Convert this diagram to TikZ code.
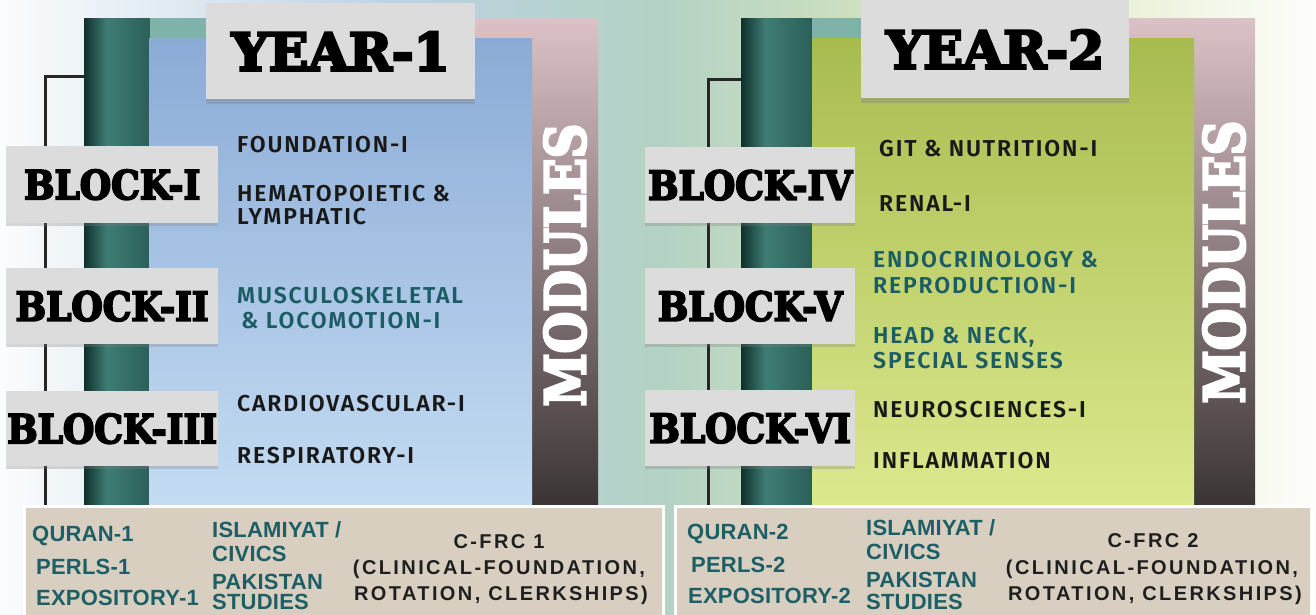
\documentclass[tikz,border=0pt]{standalone}
\usepackage{fontspec}
\usetikzlibrary{shadows}

\newfontfamily\slab{DejaVu Serif}[FakeBold=4.5, FakeStretch=0.9]
\newfontfamily\slabwide{DejaVu Serif}[FakeBold=5]
\newfontfamily\modfont{Fira Sans SemiBold}[LetterSpace=8]
\newfontfamily\arial{Liberation Sans}[LetterSpace=1]
\newfontfamily\widearial{Liberation Sans}[LetterSpace=12]

\definecolor{tealA}{HTML}{10302C}
\definecolor{tealB}{HTML}{3E7D74}
\definecolor{tealC}{HTML}{2A5F58}
\definecolor{tealtop}{HTML}{7FB3AA}
\definecolor{pinkA}{HTML}{DCC2C6}
\definecolor{pinkB}{HTML}{9B8C8E}
\definecolor{pinkC}{HTML}{3A3435}
\definecolor{blueA}{HTML}{8BABD6}
\definecolor{blueB}{HTML}{C4DCF3}
\definecolor{greenA}{HTML}{A8BB4F}
\definecolor{greenB}{HTML}{DCE98E}
\definecolor{boxgray}{HTML}{DCDCDC}
\definecolor{beige}{HTML}{D8CFC0}
\definecolor{modteal}{HTML}{1C5C64}
\definecolor{lowteal}{HTML}{1D5F66}
\definecolor{bgblue}{HTML}{BCD2E3}
\definecolor{bgteal}{HTML}{B3D2C4}
\definecolor{bggreen}{HTML}{DDE8BE}

\pgfdeclarehorizontalshading{bgshade}{100bp}{color(0bp)=(white!94!bgblue); color(25bp)=(white!94!bgblue); color(40bp)=(bgblue); color(50bp)=(bgteal); color(62bp)=(bggreen); color(75bp)=(white!94!bggreen); color(100bp)=(white!94!bggreen)}
\pgfdeclarehorizontalshading{barshade}{100bp}{color(0bp)=(tealA); color(25bp)=(tealA); color(42bp)=(tealB); color(75bp)=(tealC); color(100bp)=(tealC)}

\tikzset{
  tealbar/.style={anchor=north west, inner sep=0, shading=barshade, minimum height=487pt},
  modbar/.style={anchor=north west, inner sep=0, top color=pinkA, middle color=pinkB, bottom color=pinkC, minimum height=487pt},
  panel/.style={anchor=north west, inner sep=0, minimum height=467pt},
  yearbox/.style={anchor=north west, inner sep=0, fill=boxgray, drop shadow={opacity=0.35, shadow xshift=0pt, shadow yshift=-5pt},
    font=\slabwide\bfseries\fontsize{52}{52}\selectfont},
  blockbox/.style={anchor=north west, inner sep=0, fill=boxgray, drop shadow={opacity=0.3, shadow xshift=0pt, shadow yshift=-3pt},
    font=\slab\bfseries\fontsize{40}{40}\selectfont},
  modlabel/.style={rotate=90, inner sep=0, text=white, font=\slab\bfseries\fontsize{56}{56}\selectfont},
  modtext/.style={anchor=base west, inner sep=0, text=black!90, font=\modfont\fontsize{23}{23}\selectfont},
  tealtext/.style={modtext, text=modteal},
  lowbox/.style={anchor=north west, inner sep=0, fill=beige, draw=white, line width=3pt, minimum height=113pt},
  lowtext/.style={anchor=base west, inner sep=0, text=lowteal, font=\arial\bfseries\fontsize{22}{22}\selectfont},
  frctext/.style={anchor=base, inner sep=0, text=black!88, font=\widearial\bfseries\fontsize{20}{20}\selectfont},
  bracket/.style={draw=black!85, line width=3pt}
}

\begin{document}
\begin{tikzpicture}[x=1pt,y=-1pt]

\useasboundingbox (0,0) rectangle (1316,615);
\fill[shading=bgshade] (0,0) rectangle (1316,615);

% year 1
\node[tealbar, minimum width=66pt] (bar1) at (84,18) {};
\fill[tealtop] (150,18) rectangle (260,38);
\node[modbar, minimum width=128pt] (side1) at (470,18) {};
\node[panel, minimum width=383pt, top color=blueA, bottom color=blueB] (panel1) at (149,38) {};
\node[modlabel] (mod1) at (565,265) {\scalebox{0.95}[1]{MODULES}};
\node[yearbox, minimum width=269pt, minimum height=96pt] (year1) at (206,3) {YEAR-1};

% year 2
\node[tealbar, minimum width=71pt] (bar2) at (741,18) {};
\fill[tealtop] (812,18) rectangle (900,38);
\node[modbar, minimum width=126pt] (side2) at (1129,18) {};
\node[panel, minimum width=382pt, top color=greenA, bottom color=greenB] (panel2) at (812,38) {};
\node[modlabel] (mod2) at (1224,262) {\scalebox{0.95}[1]{MODULES}};
\node[yearbox, minimum width=268pt, minimum height=98pt] (year2) at (861,0) {YEAR-2};

\node[lowbox, minimum width=639pt] (low1) at (23,505) {};
\node[lowbox, minimum width=636pt] (low2) at (674,505) {};

\coordinate (k1) at (45,77);
\coordinate (k2) at (708,80);
\draw[bracket] (bar1.west |- k1) -- (k1) -- (k1 |- low1.north);
\draw[bracket] (bar2.west |- k2) -- (k2) -- (k2 |- low2.north);

\node[blockbox, minimum width=212pt, minimum height=77pt] (b1) at (6,146) {BLOCK-I};
\node[blockbox, minimum width=212pt, minimum height=76pt] (b2) at (6,268) {BLOCK-II};
\node[blockbox, minimum width=212pt, minimum height=75pt] (b3) at (6,391) {BLOCK-III};
\node[blockbox, minimum width=210pt, minimum height=76pt] (b4) at (645,147) {BLOCK-IV};
\node[blockbox, minimum width=210pt, minimum height=76pt] (b5) at (645,268) {BLOCK-V};
\node[blockbox, minimum width=210pt, minimum height=76pt] (b6) at (645,390) {BLOCK-VI};

\node[modtext] (m1) at (237,152) {FOUNDATION-I};
\node[modtext] (m2a) at (237,201) {HEMATOPOIETIC \&};
\node[modtext] (m2b) at (237,224) {LYMPHATIC};
\node[tealtext] (m3a) at (237,303) {MUSCULOSKELETAL};
\node[tealtext] (m3b) at (241,328) {\& LOCOMOTION-I};
\node[modtext] (m4) at (237,411) {CARDIOVASCULAR-I};
\node[modtext] (m5) at (237,463) {RESPIRATORY-I};

\node[modtext] (m6) at (879,156) {GIT \& NUTRITION-I};
\node[modtext] (m7) at (879,211) {RENAL-I};
\node[tealtext] (m8a) at (873,267) {ENDOCRINOLOGY \&};
\node[tealtext] (m8b) at (873,293) {REPRODUCTION-I};
\node[tealtext] (m9a) at (873,343) {HEAD \& NECK,};
\node[tealtext] (m9b) at (873,368) {SPECIAL SENSES};
\node[modtext] (m10) at (873,417) {NEUROSCIENCES-I};
\node[modtext] (m11) at (873,468) {INFLAMMATION};

\node[lowtext] (q1) at (32,541) {QURAN-1};
\node[lowtext] (p1) at (36,574) {PERLS-1};
\node[lowtext] (e1) at (36,605) {EXPOSITORY-1};
\node[lowtext] (i1) at (212,537) {ISLAMIYAT /};
\node[lowtext] (c1) at (212,561) {CIVICS};
\node[lowtext] (s1) at (212,589) {PAKISTAN};
\node[lowtext] (s1b) at (212,609) {STUDIES};
\node[frctext] (f1) at (499,548) {C-FRC 1};
\node[frctext] (f1b) at (499,574) {(CLINICAL-FOUNDATION,};
\node[frctext] (f1c) at (501,600) {ROTATION, CLERKSHIPS)};

\node[lowtext] (q2) at (687,539) {QURAN-2};
\node[lowtext] (p2) at (691,572) {PERLS-2};
\node[lowtext] (e2) at (688,603) {EXPOSITORY-2};
\node[lowtext] (i2) at (866,535) {ISLAMIYAT /};
\node[lowtext] (c2) at (866,559) {CIVICS};
\node[lowtext] (s2) at (866,587) {PAKISTAN};
\node[lowtext] (s2b) at (866,609) {STUDIES};
\node[frctext] (f2) at (1153,547) {C-FRC 2};
\node[frctext] (f2b) at (1152,574) {(CLINICAL-FOUNDATION,};
\node[frctext] (f2c) at (1155,600) {ROTATION, CLERKSHIPS)};

\end{tikzpicture}
\end{document}
